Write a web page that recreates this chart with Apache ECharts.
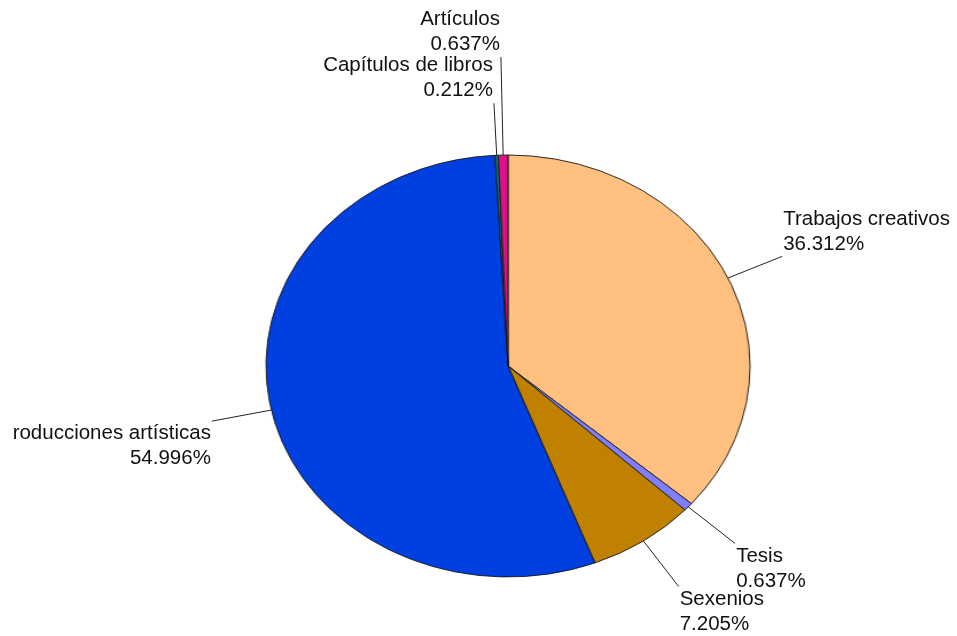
<!DOCTYPE html>
<html><head><meta charset="utf-8">
<script src="https://cdn.jsdelivr.net/npm/echarts@6/dist/echarts.min.js"></script>
<style>
html,body{margin:0;padding:0;background:#fff;overflow:hidden}
#wrap{position:relative;width:957px;height:636px;overflow:hidden;background:#fff}
#pie,#labels{position:absolute;left:0;top:0;width:957px;height:636px}
#pie{transform-origin:508px 366px;transform:scaleX(1.147)}
</style></head><body>
<div id="wrap"><div id="pie"></div><div id="labels"></div></div>
<script>
// Data
const categories = ['Trabajos creativos', 'Tesis', 'Sexenios', 'roducciones artísticas', 'Capítulos de libros', 'Artículos'];
const values = [36.312, 0.637, 7.205, 54.996, 0.212, 0.637];

// Styling
const sliceColors = ['#FFC080', '#8080FF', '#C08000', '#0040E0', '#008080', '#E0108A'];
const lineLen = [52, 55, 55, 53, 52, 98];
const CX = 508, CY = 366, RY = 211, K = 242 / 211;

const pieData = categories.map((c, i) => ({ name: c, value: values[i], itemStyle: { color: sliceColors[i] } }));
const labelData = categories.map((c, i) => ({ name: c, value: values[i], labelLine: { length: lineLen[i] } }));

const pieChart = echarts.init(document.getElementById('pie'), null, { renderer: 'canvas' });
pieChart.setOption({
  animation: false,
  backgroundColor: 'transparent',
  series: [{
    type: 'pie',
    center: [CX, CY],
    radius: RY,
    startAngle: 90,
    clockwise: true,
    label: { show: false },
    labelLine: { show: false },
    itemStyle: { borderColor: '#151515', borderWidth: 0.9 },
    emphasis: { disabled: true },
    data: pieData
  }]
});

const labelChart = echarts.init(document.getElementById('labels'), null, { renderer: 'canvas' });
labelChart.setOption({
  animation: false,
  backgroundColor: 'transparent',
  series: [{
    type: 'pie',
    center: [CX, CY],
    radius: RY,
    startAngle: 90,
    clockwise: true,
    avoidLabelOverlap: false,
    itemStyle: { color: 'rgba(0,0,0,0)', borderWidth: 0 },
    emphasis: { disabled: true },
    label: {
      show: true,
      position: 'outside',
      formatter: p => p.name + '\n' + p.value.toFixed(3) + '%',
      fontFamily: 'Liberation Sans',
      fontSize: 20.5,
      lineHeight: 25,
      color: '#111'
    },
    labelLine: { show: true, length2: 0, lineStyle: { color: '#222', width: 1 } },
    labelLayout: function (p) {
      const pts = p.labelLinePoints;
      if (!pts) return {};
      const np = pts.map(q => [CX + (q[0] - CX) * K, q[1]]);
      const end = np[np.length - 1];
      const right = end[0] >= CX;
      const below = end[1] > CY;
      return {
        x: end[0] + (right ? 1 : -1),
        y: end[1],
        align: right ? 'left' : 'right',
        verticalAlign: below ? 'top' : 'bottom',
        labelLinePoints: np
      };
    },
    data: labelData
  }]
});
</script>
</body></html>
